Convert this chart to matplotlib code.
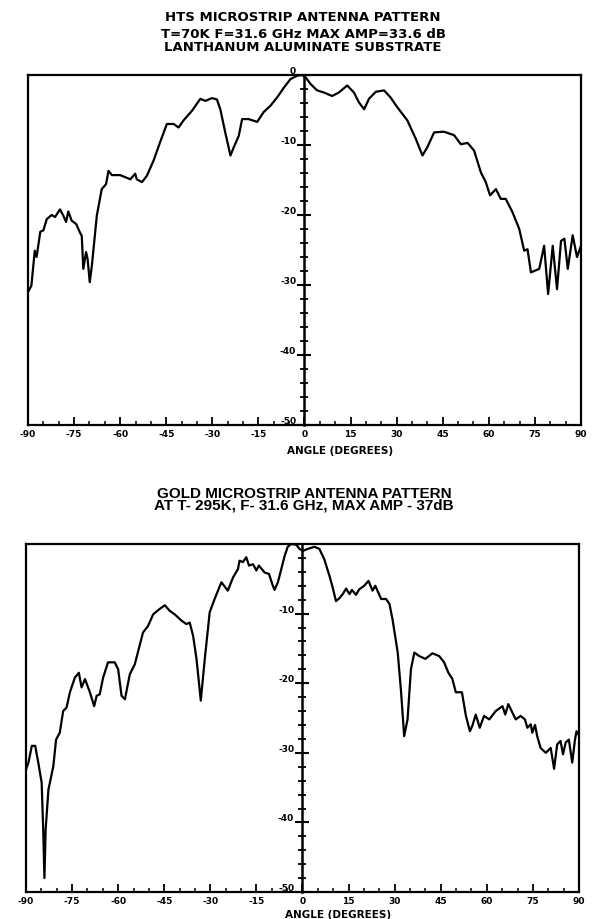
# antenna pattern plots (HTS vs gold microstrip)
import numpy as np
import matplotlib
matplotlib.use('Agg')
import matplotlib.pyplot as plt
from matplotlib.ticker import MultipleLocator

plt.rcParams['font.family'] = ['DejaVu Sans']
plt.rcParams['font.weight'] = 'bold'
plt.rcParams['axes.unicode_minus'] = False

# HTS antenna, T=70K  (angle in degrees, amplitude in dB)
hts_angle = [-90, -88.9, -87.8, -87.2, -86, -85, -83.9, -82.3, -81.2, -79.6,
             -78.5, -77.6, -76.9, -75.8, -74.3, -73.2, -72.5, -72, -71.1, -70.6,
             -69.9, -69.2, -67.6, -66, -64.6, -63.8, -62.7, -60, -56.7, -55.1,
             -54.6, -52.9, -51.3, -49.1, -47, -44.8, -42.6, -41, -39.4, -36.6,
             -33.9, -32.3, -30.1, -28.5, -27.4, -25.8, -24.1, -23, -21.4, -20.3,
             -18.2, -15.4, -13.3, -11.1, -8.9, -6.7, -4.6, -2.4, -0.8, 0.3,
             2, 4.1, 6.3, 9, 11.2, 13.9, 16.1, 17.7, 19.4, 21,
             23.2, 25.9, 28, 30.2, 33.5, 36.2, 38.4, 40, 42.2, 45.4,
             48.7, 50.9, 53.1, 55.2, 57.4, 59, 60.4, 62.3, 63.9, 65.5,
             67.7, 69.9, 71.5, 72.6, 73.7, 76.4, 78, 79.3, 80.8, 82.2,
             83.5, 84.6, 85.7, 87.3, 88.7, 90]
hts_db = [-31, -30.1, -25.1, -26, -22.4, -22.2, -20.6, -20, -20.3, -19.2,
          -20.1, -21, -19.5, -20.8, -21.3, -22.4, -23, -27.7, -25.3, -26.3,
          -29.6, -27.2, -20.1, -16.3, -15.6, -13.7, -14.3, -14.3, -14.9, -14.1,
          -14.9, -15.3, -14.4, -12.2, -9.6, -7, -7, -7.5, -6.5, -5.1,
          -3.4, -3.7, -3.3, -3.5, -4.9, -8.2, -11.5, -10.3, -8.7, -6.3,
          -6.3, -6.7, -5.3, -4.4, -3.2, -1.8, -0.6, -0.1, 0, -0.3,
          -1.3, -2.2, -2.5, -3, -2.5, -1.5, -2.5, -3.9, -4.9, -3.4,
          -2.4, -2.2, -3.2, -4.6, -6.5, -9.1, -11.5, -10.3, -8.2, -8.1,
          -8.6, -9.9, -9.7, -10.8, -13.9, -15.3, -17.2, -16.3, -17.7, -17.7,
          -19.6, -22, -25.1, -24.9, -28.2, -27.7, -24.4, -31.3, -24.4, -30.6,
          -23.7, -23.4, -27.7, -22.9, -26, -24.4]

# gold antenna, T=295K
gold_angle = [-90, -89.2, -88.1, -87, -86, -84.9, -84.4, -84, -83.6, -82.7,
              -81.1, -80.2, -79, -77.9, -76.8, -75.7, -74.1, -72.8, -71.9, -70.8,
              -69.2, -67.8, -67, -66, -64.9, -63.3, -61.1, -60, -58.9, -57.8,
              -56.2, -54.6, -53, -51.9, -50.3, -48.6, -46.7, -44.8, -43.2, -41.6,
              -39.4, -37.8, -36.7, -35.6, -34.5, -33.1, -31.8, -30.2, -28.6, -26.4,
              -24.3, -22.6, -21, -20.5, -19.4, -18.3, -17.4, -16.1, -15, -14.2,
              -12.3, -10.9, -9.8, -9.1, -8, -6.6, -5.8, -4.8, -3.7, -2,
              -1, 0.1, 1.7, 3.9, 5.5, 7.1, 8.8, 9.8, 10.9, 12,
              13.1, 14.2, 15.3, 16.1, 17.4, 18.5, 20.1, 21.5, 22.8, 23.7,
              25.6, 27.2, 28.3, 29.3, 31, 32.1, 33.1, 34.2, 35.3, 36.4,
              38, 40, 42.3, 44.5, 46.1, 47.5, 48.8, 49.9, 51.9, 53.2,
              54.5, 55.3, 56.4, 57.7, 59.1, 60.8, 62.9, 65.1, 66, 67,
              68.3, 69.4, 71, 72.4, 73.2, 74.3, 74.8, 75.7, 76.4, 77.5,
              79.2, 80.8, 81.9, 82.9, 84, 84.8, 85.7, 86.7, 87.8, 88.7,
              89.2, 90]
gold_db = [-32.4, -31.4, -29, -29, -31.4, -34.3, -41, -48, -41, -35.3,
           -31.9, -28.1, -27.1, -24, -23.5, -21.3, -19.2, -18.5, -20.6, -19.4,
           -21.3, -23.3, -21.8, -21.6, -19.2, -17, -17, -18, -21.8, -22.3,
           -18.7, -17.3, -14.6, -12.7, -11.8, -10.1, -9.4, -8.8, -9.6, -10.1,
           -11, -11.5, -11.3, -13.2, -16.5, -22.5, -16.5, -9.8, -7.9, -5.5,
           -6.7, -4.8, -3.6, -2.4, -2.6, -1.9, -3.1, -2.9, -3.8, -3.1,
           -4.1, -4.3, -5.8, -6.6, -5.5, -3.1, -1.7, -0.4, 0, -0.1,
           -0.7, -1, -0.7, -0.4, -0.7, -2.2, -4.6, -6.2, -8.2, -7.8,
           -7.2, -6.4, -7.2, -6.6, -7.3, -6.5, -6, -5.3, -6.7, -6,
           -7.9, -7.9, -8.6, -10.8, -15.6, -21.3, -27.6, -25.2, -18, -15.6,
           -16.1, -16.5, -15.7, -16.1, -17, -18.5, -19.4, -21.3, -21.3, -24.7,
           -26.9, -26.1, -24.5, -26.4, -24.7, -25.2, -24, -23.3, -24.5, -23,
           -24.2, -25.2, -24.7, -25.2, -26.4, -25.9, -27.1, -26, -27.6, -29.3,
           -30, -29.3, -32.3, -28.8, -28.3, -30.2, -28.5, -28.1, -31.4, -28.1,
           -26.9, -27.5]

hts_title = ['HTS MICROSTRIP ANTENNA PATTERN',
             'T=70K F=31.6 GHz MAX AMP=33.6 dB',
             'LANTHANUM ALUMINATE SUBSTRATE']
gold_title = ['GOLD MICROSTRIP ANTENNA PATTERN',
              'AT T- 295K, F- 31.6 GHz, MAX AMP - 37dB']


def draw_pattern(ax, ang, db, show_zero, xlab_y):
    ax.plot(ang, db, color='black', lw=1.6)
    ax.set_xlim(-90, 90)
    ax.set_ylim(-50, 0)
    for s in ax.spines.values():
        s.set_linewidth(1.6)
    ax.set_yticks([])
    ax.set_xticks(np.arange(-90, 91, 15))
    ax.xaxis.set_minor_locator(MultipleLocator(5))
    ax.tick_params(axis='x', which='major', direction='in', length=6, width=1.3,
                   labelsize=6.5, pad=3)
    ax.tick_params(axis='x', which='minor', direction='in', length=3, width=1.1)

    # dB scale sits on the 0 degree line
    ax2 = ax.twinx()
    ax2.set_ylim(-50, 0)
    for s in ['top', 'bottom', 'right']:
        ax2.spines[s].set_visible(False)
    ax2.spines['left'].set_position(('data', 0))
    ax2.spines['left'].set_linewidth(1.8)
    ax2.yaxis.set_ticks_position('left')
    if show_zero:
        ax2.set_yticks([-50, -40, -30, -20, -10, 0])
    else:
        ax2.set_yticks([-50, -40, -30, -20, -10])
    ax2.yaxis.set_minor_locator(MultipleLocator(2))
    ax2.tick_params(axis='y', which='major', direction='inout', length=10, width=1.5,
                    labelsize=6.5, pad=1)
    ax2.tick_params(axis='y', which='minor', direction='inout', length=6, width=1.3)
    for lbl in ax2.get_yticklabels():
        lbl.set_verticalalignment('bottom')

    ax.set_xlabel('ANGLE (DEGREES)', fontsize=7.5, fontweight='bold')
    ax.xaxis.set_label_coords(0.564, xlab_y)


fig = plt.figure(figsize=(5.92, 9.2), dpi=100)

ax_top = fig.add_axes([0.0473, 0.5370, 0.9341, 0.3804])
draw_pattern(ax_top, hts_angle, hts_db, True, -0.057)

ax_bot = fig.add_axes([0.0439, 0.0293, 0.9341, 0.3783])
draw_pattern(ax_bot, gold_angle, gold_db, False, -0.048)

# titles
for i, y in enumerate([17.5, 34, 47.5]):
    fig.text(0.512, 1 - y / 920, hts_title[i], ha='center', va='center',
             fontsize=9.5, fontweight='bold')
for i, y in enumerate([493.5, 506]):
    fig.text(0.514, 1 - y / 920, gold_title[i], ha='center', va='center',
             fontsize=11, fontweight='bold', family='Liberation Sans')

fig.savefig('out.png', dpi=100)
